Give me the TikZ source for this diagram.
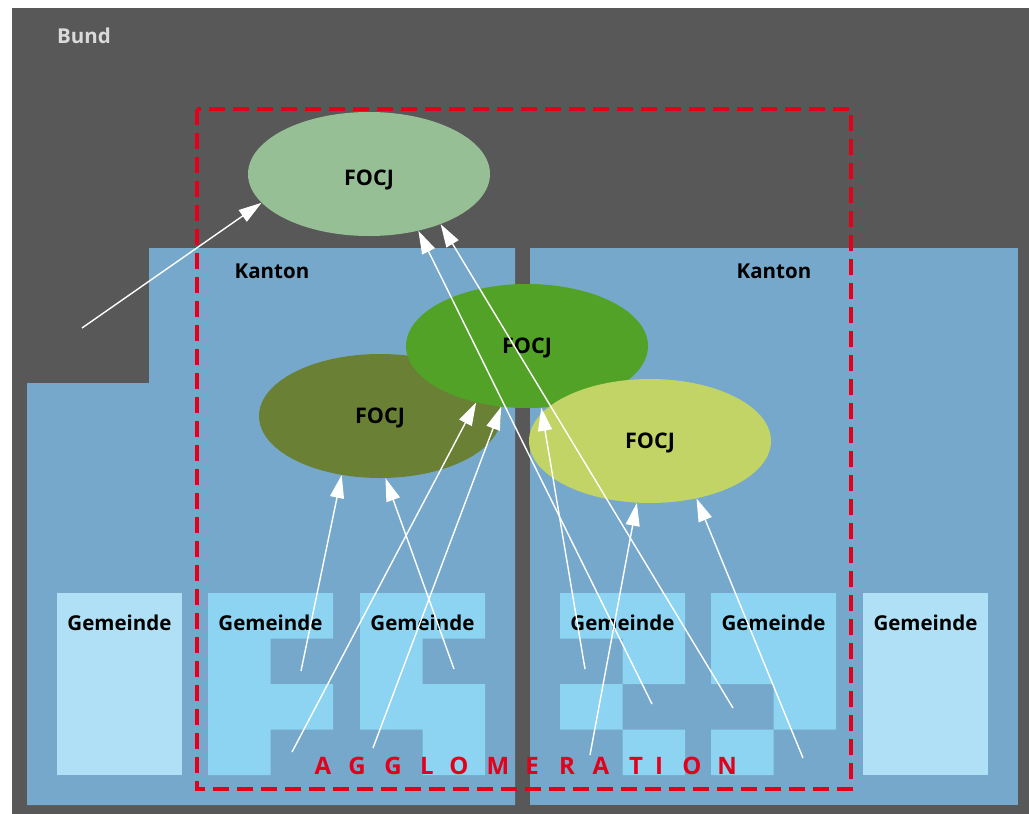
\documentclass[tikz,border=0pt]{standalone}
\usepackage{fontspec}
\setmainfont{Open Sans}
\usetikzlibrary{shapes.geometric,arrows.meta}

\definecolor{bundgray}{HTML}{575857}
\definecolor{bundtext}{HTML}{DADADA}
\definecolor{kanton}{HTML}{76A8CB}
\definecolor{gemlight}{HTML}{B0E0F5}
\definecolor{gemdark}{HTML}{8CD4F1}
\definecolor{focjpale}{HTML}{97BF96}
\definecolor{focjolive}{HTML}{6A8034}
\definecolor{focjgreen}{HTML}{52A228}
\definecolor{focjlime}{HTML}{C1D465}
\definecolor{aggred}{HTML}{E3001B}

% one Gemeinde made of 2 x 4 cells; #3 lists the filled cells as col/row
\newcommand\gemcells[3]{%
  \fill[gemdark] \foreach \c/\r in {#3} {({#1+(\c-1)*62.5},{#2+(\r-1)*45.5}) rectangle ++(62.5,45.5)};}
% FOCJ text with its baseline #1 below the centre of the ellipse
\newcommand\focjtext[1]{\raisebox{-#1}[0pt][0pt]{FOCJ}}

\begin{document}
\begin{tikzpicture}[x=1pt,y=-1pt,
  lbl/.style={font=\bfseries\fontsize{20.5}{24}\selectfont, text=black, inner sep=0pt, anchor=base},
  focj/.style={ellipse, minimum width=242pt, minimum height=124pt, inner sep=0pt,
               font=\bfseries\fontsize{21.5}{24}\selectfont, text=black},
  conn/.style={draw=white, line width=1.4pt, -{Triangle[length=23pt,width=14pt]}},
  agg/.style={font=\bfseries\fontsize{24}{26}\selectfont, text=aggred, inner sep=0pt, anchor=base},
  aggline/.style={draw=aggred, line width=3.5pt, dash pattern=on 16pt off 8pt},
]
\useasboundingbox (0,0) rectangle (1029,814);

% Bund
\fill[bundgray] (12,8) rectangle (1029,814);
\node[lbl, text=bundtext, anchor=base west] (bund) at (57,43) {Bund};

% Kantone
\fill[kanton] (149,248) -- (515,248) -- (515,805) -- (27,805) -- (27,383) -- (149,383) -- cycle;
\fill[kanton] (530,248) rectangle (1018,805);
\node[lbl] (kanton1) at (272,278) {Kanton};
\node[lbl] (kanton2) at (774,278) {Kanton};

% Gemeinden
\fill[gemlight] (57,593) rectangle (182,775);
\fill[gemlight] (863,593) rectangle (988,775);
\gemcells{208}{593}{1/1,2/1,1/2,1/3,2/3,1/4}
\gemcells{360}{593}{1/1,2/1,1/2,1/3,2/3,2/4}
\gemcells{560}{593}{1/1,2/1,2/2,1/3,2/4}
\gemcells{711}{593}{1/1,2/1,1/2,2/2,2/3,1/4}
\node[lbl] (g1) at (119.5,630) {Gemeinde};
\node[lbl] (g2) at (270.5,630) {Gemeinde};
\node[lbl] (g3) at (422.5,630) {Gemeinde};
\node[lbl] (g4) at (622.5,630) {Gemeinde};
\node[lbl] (g5) at (773.5,630) {Gemeinde};
\node[lbl] (g6) at (925.5,630) {Gemeinde};

% FOCJ
\node[focj, fill=focjpale] (f1) at (369,174) {\focjtext{11.5pt}};
\node[focj, fill=focjolive] (f2) at (380,416) {\focjtext{7.5pt}};
\node[focj, fill=focjgreen] (f3) at (527,346) {\focjtext{7.5pt}};
\node[focj, fill=focjlime] (f4) at (650,441) {\focjtext{7.5pt}};

% Agglomeration
\draw[aggline] (197,109) rectangle (851,789);
\foreach \xx/\ch [count=\i] in {323/A,357/G,393/G,427/L,459/O,498/M,532/E,567/R,601/A,636/T,659/I,692/O,727/N}
  \node[agg] (agg\i) at (\xx,774) {\ch};

% tails of the connectors
\coordinate (t0) at (82,328);
\coordinate (ta) at (652,704);
\coordinate (tb) at (733,708);
\coordinate (to1) at (301,671);
\coordinate (to2) at (454,669);
\coordinate (tg1) at (292,752);
\coordinate (tg2) at (373,748);
\coordinate (tg3) at (585,669);
\coordinate (ty1) at (590,755);
\coordinate (ty2) at (803,758);

\draw[conn] (t0) -- (f1.195.2);
\draw[conn] (ta) -- (f1.311.9);
\draw[conn] (tb) -- (f1.325.6);
\draw[conn] (to1) -- (f2.237.4);
\draw[conn] (to2) -- (f2.275);
\draw[conn] (tg1) -- (f3.228.3);
\draw[conn] (tg2) -- (f3.247.4);
\draw[conn] (tg3) -- (f3.283.8);
\draw[conn] (ty1) -- (f4.258.5);
\draw[conn] (ty2) -- (f4.309.5);
\end{tikzpicture}
\end{document}
